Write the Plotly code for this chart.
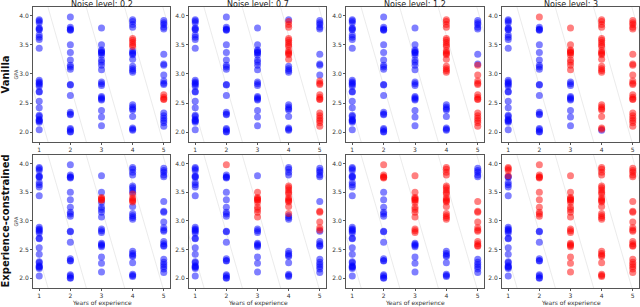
import plotly.graph_objects as go

# ---- data ----
years = [1, 2, 3, 4, 5]
gpa_y1 = [3.93, 3.91, 3.88, 3.79, 3.77, 3.76, 3.67, 3.63, 3.59, 3.44, 2.89, 2.86, 2.84, 2.82, 2.79,
          2.70, 2.69, 2.53, 2.42, 2.29, 2.27, 2.22, 2.20, 2.19, 2.17, 2.04]
gpa_y2 = [3.98, 3.80, 3.77, 3.76, 3.75, 3.50, 3.37, 3.24, 3.15, 3.12, 3.08, 2.82, 2.81, 2.63, 2.34,
          2.31, 2.30, 2.06, 2.04, 2.01, 2.00]
gpa_y3 = [3.79, 3.50, 3.41, 3.39, 3.37, 3.36, 3.32, 3.24, 3.20, 3.15, 3.07, 2.86, 2.83, 2.80, 2.61,
          2.59, 2.57, 2.55, 2.37, 2.26, 2.11]
gpa_y4 = [3.93, 3.90, 3.85, 3.80, 3.61, 3.58, 3.54, 3.50, 3.47, 3.40, 3.37, 3.35, 3.33, 3.25, 3.13,
          3.09, 3.06, 3.03, 2.47, 2.43, 2.40, 2.38, 2.27, 2.07, 2.05, 2.03]
gpa_y5 = [3.92, 3.88, 3.85, 3.80, 3.77, 3.34, 3.17, 3.15, 2.98, 2.88, 2.84, 2.82, 2.64, 2.60, 2.57,
          2.56, 2.33, 2.28, 2.24, 2.20, 2.16, 2.10]
gpa_by_year = [gpa_y1, gpa_y2, gpa_y3, gpa_y4, gpa_y5]

noise_levels = ["0.2", "0.7", "1.2", "3"]
row_names = ["Vanilla", "Experience-constrained"]
gpa_ticks = [2.0, 2.5, 3.0, 3.5, 4.0]

# red (positive) GPA intervals per year, per panel
red_vanilla = [
    {4: [[3.47, 3.61]], 5: [[2.56, 2.64]]},
    {4: [[3.25, 3.61], [3.80, 3.90]], 5: [[2.82, 2.88], [2.56, 2.64], [2.10, 2.33]]},
    {4: [[3.03, 3.93]], 5: [[2.10, 3.15]]},
    {2: [[3.98, 3.98]], 3: [[3.07, 3.79]], 4: [[2.05, 3.93]], 5: [[2.10, 3.92]]},
]
red_constrained = [
    {3: [[3.36, 3.41]], 4: [[3.33, 3.47]]},
    {2: [[3.98, 3.98]], 3: [[3.07, 3.50]], 4: [[3.13, 3.61]], 5: [[2.84, 3.17]]},
    {2: [[3.75, 3.98]], 3: [[2.80, 3.79]], 4: [[3.03, 3.93]], 5: [[2.56, 3.34]]},
    {1: [[3.79, 3.93]], 2: [[3.08, 3.98]], 3: [[2.11, 3.79]], 4: [[2.03, 3.93]], 5: [[2.10, 3.92]]},
]
red_rows = [red_vanilla, red_constrained]

# faint background iso-lines: year where each line meets the top edge, and GPA drop per year
line_top_years = [0.05, 1.28, 2.51, 3.74, 4.97]
line_slope = 1.88
y_lo, y_hi = 1.83, 4.15
x_lo, x_hi = 0.8, 5.2

# ---- layout geometry (pixels) ----
W, H = 640, 307
col_px = [(33, 170), (189, 326), (346, 484), (502, 639)]
row_px = [(7, 142), (155, 288)]

fig = go.Figure()
blue = "rgba(0,0,255,0.5)"
red = "rgba(255,0,0,0.5)"
FONT = "DejaVu Sans"

for r in range(2):
    for c in range(4):
        idx = r * 4 + c + 1
        xa = "x" if idx == 1 else f"x{idx}"
        ya = "y" if idx == 1 else f"y{idx}"
        for x0 in line_top_years:
            x1 = x0 + (y_hi - y_lo) / line_slope
            fig.add_trace(go.Scatter(x=[x0, x1], y=[y_hi, y_lo], mode="lines",
                                     line=dict(color="rgba(200,200,200,0.6)", width=0.6),
                                     xaxis=xa, yaxis=ya, hoverinfo="skip", showlegend=False))
        reds = red_rows[r][c]
        bx, by, rx, ry = [], [], [], []
        for yr, gl in zip(years, gpa_by_year):
            ivs = reds.get(yr, [])
            for g in gl:
                if any(lo - 1e-9 <= g <= hi + 1e-9 for lo, hi in ivs):
                    rx.append(yr); ry.append(g)
                else:
                    bx.append(yr); by.append(g)
        fig.add_trace(go.Scatter(x=bx, y=by, mode="markers",
                                 marker=dict(color=blue, size=7, line=dict(width=0)),
                                 xaxis=xa, yaxis=ya, showlegend=False))
        fig.add_trace(go.Scatter(x=rx, y=ry, mode="markers",
                                 marker=dict(color=red, size=7, line=dict(width=0)),
                                 xaxis=xa, yaxis=ya, showlegend=False))
        x0p, x1p = col_px[c]
        y0p, y1p = row_px[r]
        axcommon = dict(showgrid=False, zeroline=False, showline=True, linecolor="#555",
                        linewidth=1, mirror=True, ticks="outside", ticklen=2, tickwidth=0.7,
                        tickcolor="#555", automargin=False,
                        tickfont=dict(size=6, color="#333", family=FONT))
        fig.update_layout(**{
            ("xaxis" if idx == 1 else f"xaxis{idx}"): dict(
                domain=[x0p / W, x1p / W], range=[x_lo, x_hi], anchor=ya,
                tickvals=years, ticktext=[str(v) for v in years],
                **axcommon),
            ("yaxis" if idx == 1 else f"yaxis{idx}"): dict(
                domain=[1 - y1p / H, 1 - y0p / H], range=[y_lo, y_hi], anchor=xa,
                tickvals=gpa_ticks, tickformat=".1f",
                **axcommon),
        })

annotations = []
for c, nl in enumerate(noise_levels):
    x0p, x1p = col_px[c]
    annotations.append(dict(text=f"Noise level: {nl}", x=(x0p + x1p) / 2 / W, y=1 + 2 / H,
                            xref="paper", yref="paper", xanchor="center", yanchor="top",
                            showarrow=False, font=dict(size=8, color="#222", family=FONT)))
    annotations.append(dict(text="Years of experience", x=(x0p + x1p) / 2 / W, y=0,
                            xref="paper", yref="paper", xanchor="center", yanchor="bottom",
                            borderpad=0, yshift=-1,
                            showarrow=False, font=dict(size=6, color="#333", family=FONT)))
for r, name in enumerate(row_names):
    y0p, y1p = row_px[r]
    annotations.append(dict(text=f"<b>{name}</b>", x=5 / W, y=1 - (y0p + y1p) / 2 / H,
                            xref="paper", yref="paper", xanchor="center", yanchor="middle",
                            textangle=-90, showarrow=False,
                            font=dict(size=10, color="#111", family=FONT)))
    annotations.append(dict(text="GPA", x=15 / W, y=1 - (y0p + y1p) / 2 / H,
                            xref="paper", yref="paper", xanchor="center", yanchor="middle",
                            textangle=-90, showarrow=False,
                            font=dict(size=5, color="#333", family=FONT)))

fig.update_layout(width=W, height=H, margin=dict(l=0, r=0, t=0, b=0),
                  paper_bgcolor="white", plot_bgcolor="white", annotations=annotations)

fig.write_html("out.html", config={"displayModeBar": False},
               post_script="document.body.style.margin='0';document.body.style.overflow='hidden';")
